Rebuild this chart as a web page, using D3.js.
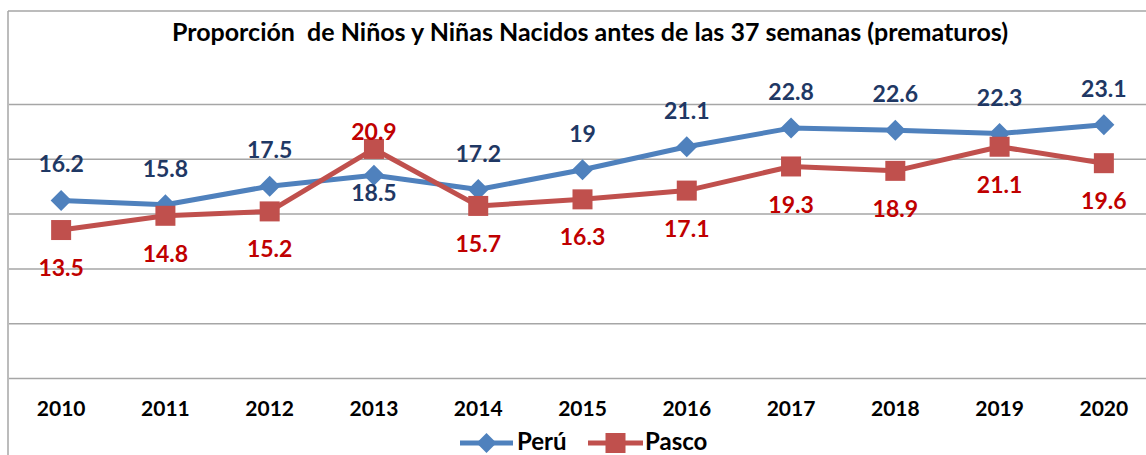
<!DOCTYPE html>
<html>
<head>
<meta charset="utf-8">
<script src="https://cdn.jsdelivr.net/npm/d3@7/dist/d3.min.js"></script>
<style>
  html, body { margin: 0; padding: 0; background: #fff; }
  svg { display: block; font-family: Lato, "Open Sans", sans-serif; }
</style>
</head>
<body>
<svg id="chart" width="1146" height="455"></svg>
<script>
const title = "Proporción  de Niños y Niñas Nacidos antes de las 37 semanas (prematuros)";
const years = ["2010","2011","2012","2013","2014","2015","2016","2017","2018","2019","2020"];
const peru  = [16.2, 15.8, 17.5, 18.5, 17.2, 19, 21.1, 22.8, 22.6, 22.3, 23.1];
const pasco = [13.5, 14.8, 15.2, 20.9, 15.7, 16.3, 17.1, 19.3, 18.9, 21.1, 19.6];
const peruLabelPos  = ["above","above","above","near-below","above","above","above","above","above","above","above"];
const pascoLabelPos = ["below","below","below","near-above","below","below","below","below","below","below","below"];
const yTicks = [0, 5, 10, 15, 20, 25];
const seriesNames = ["Perú", "Pasco"];

const svg = d3.select("#chart");
const W = 1146, H = 455;
const plot = { left: 9, right: 1156, top: 104, bottom: 378 };

const x = d3.scaleBand().domain(years).range([plot.left, plot.right]);
const cx = d => x(d) + x.bandwidth() / 2;
const y = d3.scaleLinear().domain([0, 25]).range([plot.bottom, plot.top]);

const gridColor = "#a6a6a6";
// frame
svg.append("line").attr("x1", 8).attr("x2", W).attr("y1", 11).attr("y2", 11)
  .attr("stroke", gridColor).attr("stroke-width", 1.5);
svg.append("line").attr("x1", 8).attr("x2", 8).attr("y1", 11).attr("y2", H)
  .attr("stroke", gridColor).attr("stroke-width", 1.5);

// gridlines via axis
const yAxis = d3.axisLeft(y).tickValues(yTicks).tickSize(-(plot.right - plot.left)).tickFormat("");
const gy = svg.append("g").attr("transform", `translate(${plot.left},0)`).call(yAxis);
gy.select(".domain").remove();
gy.selectAll(".tick line").attr("stroke", gridColor).attr("stroke-width", 1.5);

// x axis labels
const xAxis = d3.axisBottom(x).tickSize(0).tickPadding(0);
const gx = svg.append("g").attr("transform", `translate(0,${plot.bottom})`).call(xAxis);
gx.select(".domain").remove();
gx.selectAll(".tick text").attr("font-size", 21).attr("font-weight", 700)
  .attr("fill", "#000").attr("font-family", "Lato, sans-serif").attr("dy", 0).attr("y", 38);

// title
svg.append("text").attr("x", 590).attr("y", 41).attr("text-anchor", "middle")
  .attr("font-size", 25).attr("font-weight", 700).attr("fill", "#000")
  .style("white-space", "pre").text(title);

const line = d3.line().x((d, i) => cx(years[i])).y(d => y(d));

const series = [
  { name: seriesNames[0], values: peru, color: "#4f81bd", labelColor: "#1f3864", pos: peruLabelPos, marker: "diamond" },
  { name: seriesNames[1], values: pasco, color: "#c0504d", labelColor: "#c00000", pos: pascoLabelPos, marker: "square" }
];

const diamond = s => `M0,${-s}L${s},0L0,${s}L${-s},0Z`;

series.forEach(s => {
  svg.append("path").datum(s.values).attr("d", line).attr("fill", "none")
    .attr("stroke", s.color).attr("stroke-width", 5).attr("stroke-linejoin", "round");
  const g = svg.append("g");
  s.values.forEach((v, i) => {
    const px = cx(years[i]), py = y(v);
    if (s.marker === "diamond") {
      g.append("path").attr("d", diamond(10.5)).attr("transform", `translate(${px},${py})`).attr("fill", s.color);
    } else {
      g.append("rect").attr("x", px - 10).attr("y", py - 10).attr("width", 20).attr("height", 20).attr("fill", s.color);
    }
  });
});

const offsets = { "above": -36, "below": 38, "near-below": 18, "near-above": -17 };
series.forEach(s => {
  svg.append("g").selectAll("text").data(s.values).join("text")
    .attr("x", (d, i) => cx(years[i]))
    .attr("y", (d, i) => y(d) + offsets[s.pos[i]])
    .attr("dy", "0.35em")
    .attr("text-anchor", "middle")
    .attr("font-size", 23).attr("font-weight", 700).attr("fill", s.labelColor)
    .text(d => d);
});

// legend
const legY = 443;
const leg = [
  { x1: 460, x2: 513, tx: 517, s: series[0] },
  { x1: 588, x2: 643, tx: 645, s: series[1] }
];
leg.forEach(l => {
  svg.append("line").attr("x1", l.x1).attr("x2", l.x2).attr("y1", legY).attr("y2", legY)
    .attr("stroke", l.s.color).attr("stroke-width", 5);
  const mx = (l.x1 + l.x2) / 2;
  if (l.s.marker === "diamond") {
    svg.append("path").attr("d", diamond(10)).attr("transform", `translate(${mx},${legY})`).attr("fill", l.s.color);
  } else {
    svg.append("rect").attr("x", mx - 10).attr("y", legY - 10).attr("width", 20).attr("height", 20).attr("fill", l.s.color);
  }
  svg.append("text").attr("x", l.tx).attr("y", 450)
    .attr("font-size", 24).attr("font-weight", 700).attr("fill", "#000").text(l.s.name);
});
</script>
</body>
</html>
